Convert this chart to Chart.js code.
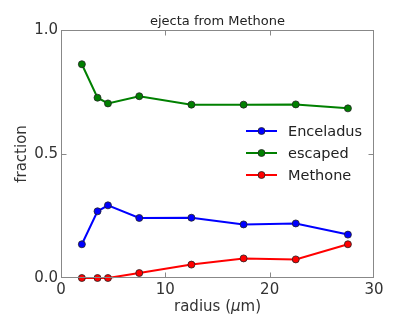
<!DOCTYPE html>
<html>
<head>
<meta charset="utf-8">
<script src="https://cdn.jsdelivr.net/npm/chart.js@4/dist/chart.umd.min.js"></script>
<style>
  html, body { margin: 0; padding: 0; background: #fff; }
  #wrap { width: 399px; height: 332px; }
</style>
</head>
<body>
<div id="wrap"><canvas id="ejectaChart" width="399" height="332"></canvas></div>
<script>
// 数据
const radius = [2, 3.5, 4.5, 7.5, 12.5, 17.5, 22.5, 27.5];
const enceladus = [0.136, 0.269, 0.293, 0.242, 0.243, 0.216, 0.220, 0.175];
const escaped = [0.862, 0.727, 0.704, 0.733, 0.699, 0.699, 0.700, 0.684];
const methone = [0.000, 0.000, 0.000, 0.020, 0.054, 0.079, 0.075, 0.136];
const xTicks = [0, 10, 20, 30];
const yTicks = [0, 0.5, 1.0];

const textColor = '#333';
const frameColor = '#888';
const font = 'DejaVu Sans';

function series(label, values, color) {
    return {
        label: label,
        data: radius.map((r, i) => ({ x: r, y: values[i] })),
        borderColor: color,
        backgroundColor: color,
        borderWidth: 2,
        pointRadius: 3.5,
        pointBorderColor: '#222',
        pointBorderWidth: 0.8,
        pointBackgroundColor: color,
        tension: 0,
        clip: false
    };
}

// 边框、向内刻度、标题、x轴标签和图例
const framePlugin = {
    id: 'frame',
    afterDraw(chart) {
        const { ctx, chartArea: a, scales: { x, y } } = chart;
        const l = a.left + 0.5, r = a.right - 0.5, t = a.top + 0.5, b = a.bottom - 0.5;
        ctx.save();
        ctx.strokeStyle = frameColor;
        ctx.lineWidth = 1;
        ctx.strokeRect(l, t, r - l, b - t);
        ctx.beginPath();
        xTicks.forEach(v => {
            const px = Math.min(r, Math.max(l, Math.round(x.getPixelForValue(v)) + 0.5));
            ctx.moveTo(px, b); ctx.lineTo(px, b - 5);
            ctx.moveTo(px, t); ctx.lineTo(px, t + 5);
        });
        yTicks.forEach(v => {
            const py = Math.min(b, Math.max(t, Math.round(y.getPixelForValue(v)) + 0.5));
            ctx.moveTo(l, py); ctx.lineTo(l + 5, py);
            ctx.moveTo(r, py); ctx.lineTo(r - 5, py);
        });
        ctx.stroke();

        // 标题
        ctx.fillStyle = '#222';
        ctx.font = '13px "' + font + '"';
        ctx.textAlign = 'center';
        ctx.textBaseline = 'alphabetic';
        ctx.fillText('ejecta from Methone', (a.left + a.right) / 2, 25);

        // x轴标签（μ 为斜体）
        const parts = [
            ['radius (', '15px "' + font + '"'],
            ['μ', 'italic 15px "' + font + '"'],
            ['m)', '15px "' + font + '"']
        ];
        let total = 0;
        parts.forEach(p => { ctx.font = p[1]; total += ctx.measureText(p[0]).width; });
        let tx = (a.left + a.right) / 2 - total / 2;
        ctx.fillStyle = textColor;
        ctx.textAlign = 'left';
        ctx.textBaseline = 'middle';
        parts.forEach(p => {
            ctx.font = p[1];
            ctx.fillText(p[0], tx, 307);
            tx += ctx.measureText(p[0]).width;
        });

        // 图例
        const lx = 246, ly = 131, gap = 22;
        chart.data.datasets.forEach((ds, i) => {
            const yy = ly + i * gap;
            ctx.strokeStyle = ds.borderColor;
            ctx.lineWidth = 2;
            ctx.beginPath();
            ctx.moveTo(lx, yy); ctx.lineTo(lx + 31, yy);
            ctx.stroke();
            ctx.beginPath();
            ctx.arc(lx + 15.5, yy, 3.5, 0, Math.PI * 2);
            ctx.fillStyle = ds.borderColor;
            ctx.fill();
            ctx.strokeStyle = '#222';
            ctx.lineWidth = 0.8;
            ctx.stroke();
            ctx.fillStyle = '#222';
            ctx.font = '14.5px "' + font + '"';
            ctx.textAlign = 'left';
            ctx.textBaseline = 'middle';
            ctx.fillText(ds.label, lx + 42, yy + 1);
        });
        ctx.restore();
    }
};

function initChart() {
    const ctx = document.getElementById('ejectaChart').getContext('2d');
    new Chart(ctx, {
        type: 'line',
        data: {
            datasets: [
                series('Enceladus', enceladus, '#0000ff'),
                series('escaped', escaped, '#008000'),
                series('Methone', methone, '#ff0000')
            ]
        },
        options: {
            responsive: false,
            animation: false,
            layout: { padding: { top: 30, right: 25, left: 0, bottom: 0 } },
            plugins: {
                legend: { display: false },
                title: { display: false },
                tooltip: { enabled: false }
            },
            scales: {
                x: {
                    type: 'linear',
                    min: 0, max: 30,
                    afterFit(scale) { scale.height = 54; },
                    afterBuildTicks(scale) { scale.ticks = xTicks.map(v => ({ value: v })); },
                    grid: { display: false, drawTicks: false },
                    border: { display: false },
                    ticks: {
                        color: textColor, padding: 3,
                        font: { family: font, size: 15 },
                        maxRotation: 0
                    },
                    title: { display: false }
                },
                y: {
                    type: 'linear',
                    min: 0, max: 1,
                    afterFit(scale) { scale.width = 61; },
                    afterBuildTicks(scale) { scale.ticks = yTicks.map(v => ({ value: v })); },
                    grid: { display: false, drawTicks: false },
                    border: { display: false },
                    ticks: {
                        color: textColor, padding: 3,
                        font: { family: font, size: 15 },
                        callback: v => v.toFixed(1)
                    },
                    title: {
                        display: true, text: 'fraction', color: textColor,
                        font: { family: font, size: 15 },
                        padding: { top: 13, bottom: 0 }
                    }
                }
            }
        },
        plugins: [framePlugin]
    });
}

document.addEventListener('DOMContentLoaded', initChart);
</script>
</body>
</html>
